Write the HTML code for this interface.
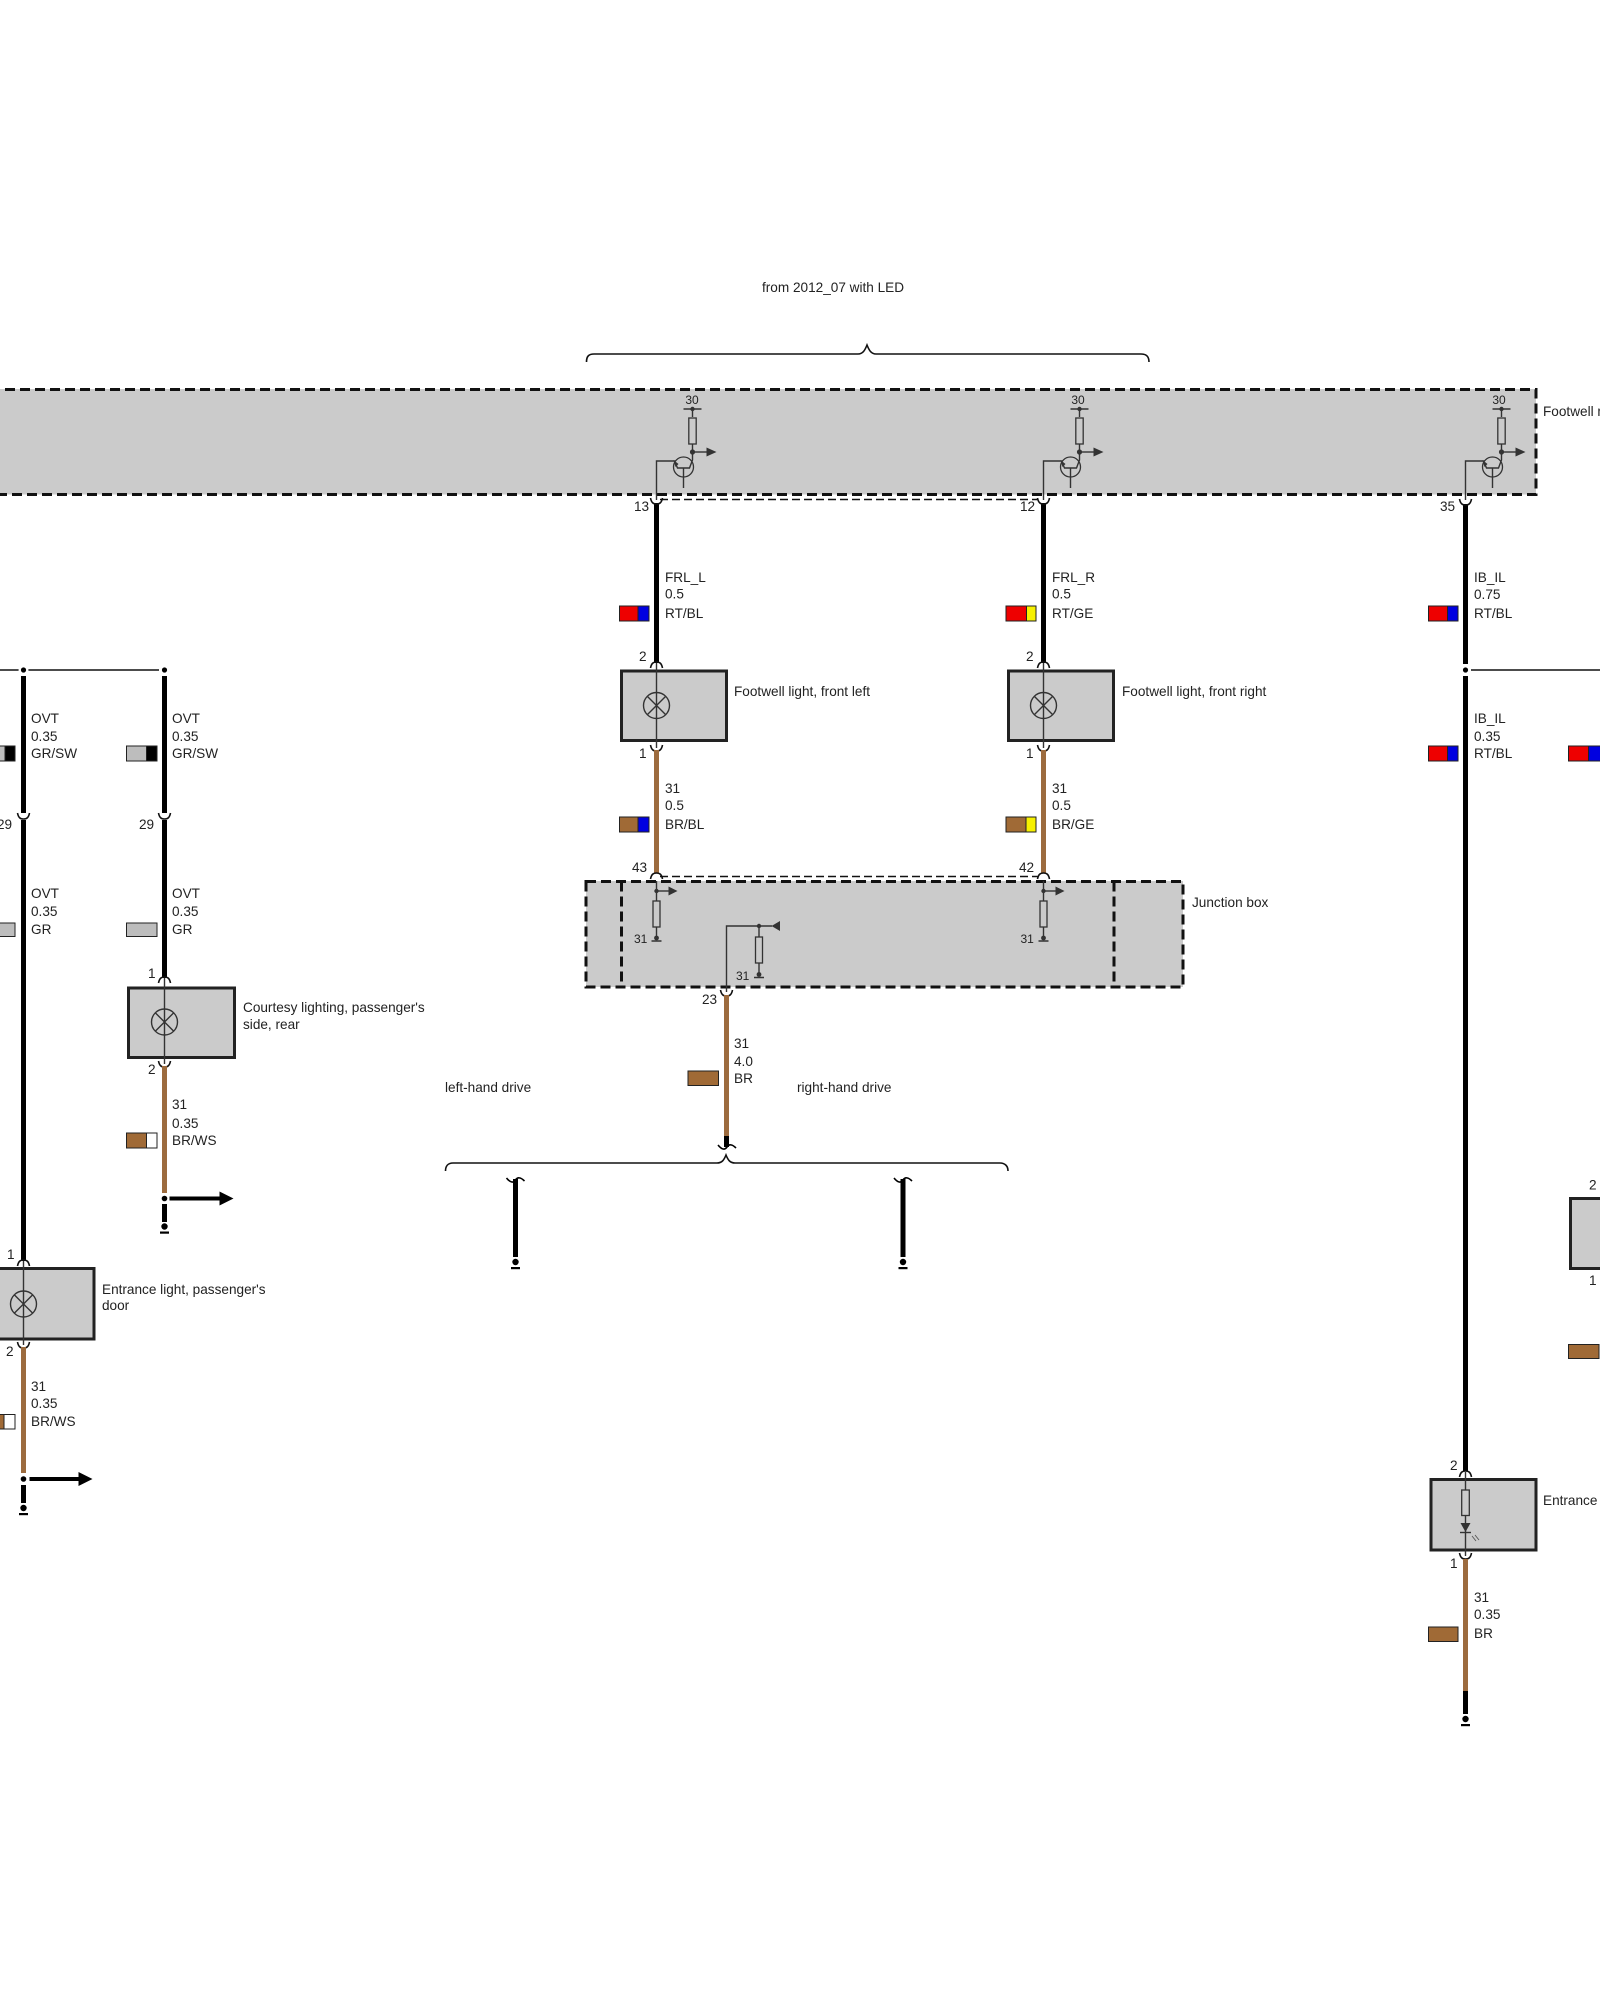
<!DOCTYPE html>
<html><head><meta charset="utf-8"><style>
html,body{margin:0;padding:0;background:#fff}
svg{display:block}
text{font-family:"Liberation Sans",sans-serif;font-size:13.6px;fill:#222}
.s{font-size:12px}
.bx{fill:#cbcbcb;stroke:#222;stroke-width:3}
.dash{stroke:#111;stroke-width:3;stroke-dasharray:10 5;fill:none}
.thind{stroke:#111;stroke-width:1.4;stroke-dasharray:8 4;fill:none}
.k{stroke:#000;stroke-width:5;fill:none}
.b{stroke:#9c6b3e;stroke-width:5;fill:none}
.t{stroke:#333;stroke-width:1.4;fill:none}
.c{stroke:#111;stroke-width:1.6;fill:none}
.sw{stroke:#222;stroke-width:1}
</style></head><body>
<svg width="1600" height="2000" viewBox="0 0 1600 2000" xmlns="http://www.w3.org/2000/svg">
<defs>
<g id="up"><path class="c" d="M-6,-5 C-5,0 -3,1 0,1 C3,1 5,0 6,-5"/></g>
<g id="dn"><path class="c" d="M-6,5 C-5,0 -3,-1 0,-1 C3,-1 5,0 6,5"/></g>
<g id="lamp"><circle r="13" fill="none" stroke="#333" stroke-width="1.4"/><path class="t" d="M-9,-9L9,9M-9,9L9,-9"/></g>
<g id="tr">
<path class="t" d="M-36,57V18H-17"/>
<path class="t" d="M-9,-34H9M0,-34V-26M0,0V17L-3,25H-15L-18,18M-9,25V45"/>
<rect x="-3.7" y="-25" width="7.4" height="26" fill="#cbcbcb" stroke="#333" stroke-width="1.3"/>
<circle cx="0" cy="-34" r="2.2" fill="#333"/><circle cx="0" cy="9" r="2.6" fill="#333"/>
<path class="t" d="M0,9H15"/><path d="M14,4.5L24,9L14,13.5Z" fill="#333"/>
<circle cx="-9" cy="24" r="10" fill="none" stroke="#333" stroke-width="1.3"/>
<path d="M-19,17L-14,21L-17,24Z" fill="#333"/>
</g>
<g id="jb">
<path class="t" d="M0,-10V10"/>
<circle cx="0" cy="0" r="2.2" fill="#333"/>
<path class="t" d="M0,0H13"/><path d="M12,-4.5L21,0L12,4.5Z" fill="#333"/>
<rect x="-3.5" y="10" width="7" height="26" fill="#cbcbcb" stroke="#333" stroke-width="1.3"/>
<path class="t" d="M0,36V47M-5,50H5"/><circle cx="0" cy="47" r="2.4" fill="#333"/>
</g>
<g id="gnd"><circle r="3.2" fill="#000"/><rect x="-4.5" y="5" width="9" height="2.2" fill="#000"/></g>
<g id="tilde"><path d="M-9,-1C-5,4 -2,4 0,1C2,-2 5,-2 9,2" fill="none" stroke="#000" stroke-width="1.6"/></g>
</defs>

<text x="762" y="292">from 2012_07 with LED</text>
<path class="c" d="M586.5,362C586.5,356 589,354 594,354H858C863,354 865,350 867,345C869,350 871,354 876,354H1141C1146,354 1149,356 1149,362"/>

<!-- top module -->
<rect x="-10" y="389" width="1546" height="105.5" fill="#cbcbcb"/>
<path class="dash" d="M-10,389.5H1536V494.5H-10"/>
<text x="1543" y="416">Footwell module</text>
<use href="#tr" x="692.5" y="443"/>
<use href="#tr" x="1079.5" y="443"/>
<use href="#tr" x="1501.5" y="443"/>
<text class="s" x="692" y="404" text-anchor="middle">30</text>
<text class="s" x="1078" y="404" text-anchor="middle">30</text>
<text class="s" x="1499" y="404" text-anchor="middle">30</text>
<path class="thind" d="M660,499.5H1038"/>

<!-- wire FRL_L -->
<path class="k" d="M656.5,503V663"/><use href="#up" x="656.5" y="503"/><use href="#dn" x="656.5" y="663"/>
<text x="634" y="511">13</text><text x="639" y="661">2</text>
<text x="665" y="582">FRL_L</text><text x="665" y="598.5">0.5</text><text x="665" y="618">RT/BL</text>
<rect class="sw" x="619.5" y="606" width="18.5" height="15" fill="#ee0000"/><rect class="sw" x="638" y="606" width="11" height="15" fill="#0000e0"/>

<!-- wire FRL_R -->
<path class="k" d="M1043.5,503V663"/><use href="#up" x="1043.5" y="503"/><use href="#dn" x="1043.5" y="663"/>
<text x="1020" y="511">12</text><text x="1026" y="661">2</text>
<text x="1052" y="582">FRL_R</text><text x="1052" y="598.5">0.5</text><text x="1052" y="618">RT/GE</text>
<rect class="sw" x="1006" y="606" width="20.5" height="15" fill="#ee0000"/><rect class="sw" x="1026.5" y="606" width="9.5" height="15" fill="#f6f000"/>

<!-- footwell lights -->
<rect class="bx" x="621.5" y="671" width="105" height="69.5"/>
<rect class="bx" x="1008.5" y="671" width="105" height="69.5"/>
<path class="t" d="M656.5,663V748M1043.5,663V748"/>
<use href="#lamp" x="656.5" y="705.5"/><use href="#lamp" x="1043.5" y="705.5"/>
<text x="734" y="696">Footwell light, front left</text>
<text x="1122" y="696">Footwell light, front right</text>
<use href="#up" x="656.5" y="750"/><use href="#up" x="1043.5" y="750"/>
<text x="639" y="758">1</text><text x="1026" y="758">1</text>

<path class="b" d="M656.5,750V873M1043.5,750V873"/>
<use href="#dn" x="656.5" y="874"/><use href="#dn" x="1043.5" y="874"/>
<text x="665" y="793">31</text><text x="665" y="810">0.5</text><text x="665" y="829">BR/BL</text>
<text x="1052" y="793">31</text><text x="1052" y="810">0.5</text><text x="1052" y="829">BR/GE</text>
<rect class="sw" x="619.5" y="817" width="18.5" height="15" fill="#a06a36"/><rect class="sw" x="638" y="817" width="11" height="15" fill="#0000e0"/>
<rect class="sw" x="1006" y="817" width="20" height="15" fill="#a06a36"/><rect class="sw" x="1026" y="817" width="10" height="15" fill="#f6f000"/>
<text x="632" y="872">43</text><text x="1019" y="872">42</text>
<path class="thind" d="M660,876.5H1038"/>

<!-- junction box -->
<rect x="586" y="881" width="597" height="106" fill="#cbcbcb"/>
<path class="dash" d="M586,881.5H1183V987H586Z"/>
<path class="dash" d="M621.5,881.5V987M1114,881.5V987"/>
<text x="1192" y="907">Junction box</text>
<use href="#jb" x="656.5" y="891"/><use href="#jb" x="1043.5" y="891"/>
<text class="s" x="634" y="943">31</text><text class="s" x="1020.5" y="943">31</text>
<path class="t" d="M726.5,992V926H772M759,926V937M759,963V975M754,977.5H764"/>
<circle cx="759" cy="926" r="2.2" fill="#333"/><circle cx="759" cy="974.5" r="2.4" fill="#333"/>
<path d="M771.5,926L780,921V931Z" fill="#333"/>
<rect x="755.5" y="937" width="7" height="26" fill="#cbcbcb" stroke="#333" stroke-width="1.3"/>
<text class="s" x="736" y="980">31</text>

<!-- wire 23 -->
<use href="#up" x="726.5" y="995"/><text x="702" y="1004">23</text>
<path class="b" d="M726.5,995V1136"/><path class="k" d="M726.5,1136V1147"/>
<text x="734" y="1048">31</text><text x="734" y="1066">4.0</text><text x="734" y="1083">BR</text>
<rect class="sw" x="688" y="1071" width="30.5" height="14.5" fill="#a06a36"/>
<text x="445" y="1092">left-hand drive</text>
<text x="797" y="1092">right-hand drive</text>
<use href="#tilde" x="727" y="1146"/>
<path class="c" d="M445.5,1171C445.5,1166 448,1163 453,1163H717C722,1163 724,1160 726,1155C728,1160 730,1163 735,1163H1000C1005,1163 1008,1166 1008,1171"/>
<use href="#tilde" x="515.5" y="1179"/><use href="#tilde" x="903" y="1179"/>
<path class="k" d="M515.5,1179V1257M903,1179V1257"/>
<use href="#gnd" x="515.5" y="1262"/><use href="#gnd" x="903" y="1262"/>

<!-- left branch -->
<path d="M0,670H159" stroke="#111" stroke-width="1.4"/>
<circle cx="23.5" cy="670" r="5" fill="#fff"/><circle cx="164.5" cy="670" r="5" fill="#fff"/>
<circle cx="23.5" cy="670" r="2.6" fill="#000"/><circle cx="164.5" cy="670" r="2.6" fill="#000"/>
<path class="k" d="M23.5,676V813M23.5,820V1261M164.5,676V813M164.5,820V978"/>
<use href="#up" x="23.5" y="818"/><use href="#up" x="164.5" y="818"/>
<text x="-3" y="829">29</text><text x="139" y="829">29</text>
<text x="31" y="723">OVT</text><text x="31" y="741">0.35</text><text x="31" y="758">GR/SW</text>
<text x="172" y="723">OVT</text><text x="172" y="741">0.35</text><text x="172" y="758">GR/SW</text>
<rect class="sw" x="-16" y="746" width="21" height="15" fill="#bdbdbd"/><rect class="sw" x="5" y="746" width="10" height="15" fill="#000"/>
<rect class="sw" x="126.5" y="746" width="20" height="15" fill="#bdbdbd"/><rect class="sw" x="146.5" y="746" width="10.5" height="15" fill="#000"/>
<text x="31" y="898">OVT</text><text x="31" y="916">0.35</text><text x="31" y="934">GR</text>
<text x="172" y="898">OVT</text><text x="172" y="916">0.35</text><text x="172" y="934">GR</text>
<rect class="sw" x="-16" y="923" width="31" height="13.5" fill="#bdbdbd"/>
<rect class="sw" x="126.5" y="923" width="30.5" height="13.5" fill="#bdbdbd"/>

<!-- courtesy -->
<rect class="bx" x="128.5" y="988" width="106" height="69.5"/>
<use href="#dn" x="164.5" y="978"/>
<path class="t" d="M164.5,978V1064"/><use href="#lamp" x="164.5" y="1022"/>
<use href="#up" x="164.5" y="1066"/>
<text x="148" y="978">1</text><text x="148" y="1074">2</text>
<text x="243" y="1012">Courtesy lighting, passenger's</text><text x="243" y="1029">side, rear</text>
<path class="b" d="M164.5,1066V1193"/>
<text x="172" y="1109">31</text><text x="172" y="1128">0.35</text><text x="172" y="1145">BR/WS</text>
<rect class="sw" x="126.5" y="1133" width="20" height="15" fill="#a06a36"/><rect class="sw" x="146.5" y="1133" width="10.5" height="15" fill="#fff"/>
<circle cx="164.5" cy="1198.5" r="2.8" fill="#000"/>
<path d="M169.5,1196.5H219.5V1191.5L233.5,1198.5L219.5,1205.5V1200.5H169.5Z" fill="#000"/>
<path class="k" d="M164.5,1204V1222"/><use href="#gnd" x="164.5" y="1226.5"/>

<!-- entrance passenger -->
<rect class="bx" x="-10" y="1268.5" width="104" height="70.5"/>
<use href="#dn" x="23.5" y="1261"/>
<path class="t" d="M23.5,1261V1345"/><use href="#lamp" x="23.5" y="1304"/>
<use href="#up" x="23.5" y="1347"/>
<text x="7" y="1259">1</text><text x="6" y="1356">2</text>
<text x="102" y="1294">Entrance light, passenger's</text><text x="102" y="1310">door</text>
<path class="b" d="M23.5,1347V1473"/>
<text x="31" y="1391">31</text><text x="31" y="1408">0.35</text><text x="31" y="1426">BR/WS</text>
<rect class="sw" x="-16" y="1414.5" width="20" height="14.5" fill="#a06a36"/><rect class="sw" x="4" y="1414.5" width="11" height="14.5" fill="#fff"/>
<circle cx="23.5" cy="1479" r="2.8" fill="#000"/>
<path d="M29.5,1477H78.5V1472L92.5,1479L78.5,1486V1481H29.5Z" fill="#000"/>
<path class="k" d="M23.5,1485V1503"/><use href="#gnd" x="23.5" y="1508"/>

<!-- IB_IL -->
<path class="k" d="M1465.5,504V664M1465.5,676V1471"/><use href="#up" x="1465.5" y="504"/>
<text x="1440" y="511">35</text>
<text x="1474" y="582">IB_IL</text><text x="1474" y="599">0.75</text><text x="1474" y="618">RT/BL</text>
<rect class="sw" x="1428.5" y="606" width="19" height="15" fill="#ee0000"/><rect class="sw" x="1447.5" y="606" width="10.5" height="15" fill="#0000e0"/>
<circle cx="1465.5" cy="670" r="5" fill="#fff"/><circle cx="1465.5" cy="670" r="2.6" fill="#000"/>
<path d="M1471,670H1600" stroke="#111" stroke-width="1.4"/>
<text x="1474" y="723">IB_IL</text><text x="1474" y="741">0.35</text><text x="1474" y="758">RT/BL</text>
<rect class="sw" x="1428.5" y="746" width="19" height="15" fill="#ee0000"/><rect class="sw" x="1447.5" y="746" width="10.5" height="15" fill="#0000e0"/>
<rect class="sw" x="1568.5" y="746" width="20" height="15" fill="#ee0000"/><rect class="sw" x="1588.5" y="746" width="12" height="15" fill="#0000e0"/>

<!-- entrance LED -->
<rect class="bx" x="1431" y="1479.5" width="105" height="70.5"/>
<use href="#dn" x="1465.5" y="1472"/>
<path class="t" d="M1465.5,1472V1556"/>
<rect x="1461.7" y="1490" width="7.6" height="25.5" fill="#cbcbcb" stroke="#333" stroke-width="1.3"/>
<path d="M1460.5,1523H1470.5L1465.5,1532Z" fill="#333"/><path class="t" d="M1460,1532.5H1471"/>
<path d="M1472,1536l4,5M1475,1535l4,5" stroke="#555" stroke-width="0.9" fill="none"/>
<use href="#up" x="1465.5" y="1558"/>
<text x="1450" y="1470">2</text><text x="1450" y="1568">1</text>
<text x="1543" y="1505">Entrance</text>
<path class="b" d="M1465.5,1559V1691"/><path class="k" d="M1465.5,1691V1714"/>
<text x="1474" y="1602">31</text><text x="1474" y="1619">0.35</text><text x="1474" y="1638">BR</text>
<rect class="sw" x="1428.5" y="1627" width="29.5" height="14.5" fill="#a06a36"/>
<use href="#gnd" x="1465.5" y="1719"/>

<!-- right clipped box -->
<rect class="bx" x="1570.5" y="1198.5" width="60" height="70"/>
<text x="1589" y="1189.5">2</text><text x="1589" y="1285">1</text>
<rect class="sw" x="1568.5" y="1344.5" width="30.5" height="14" fill="#a06a36"/>
</svg>
</body></html>
